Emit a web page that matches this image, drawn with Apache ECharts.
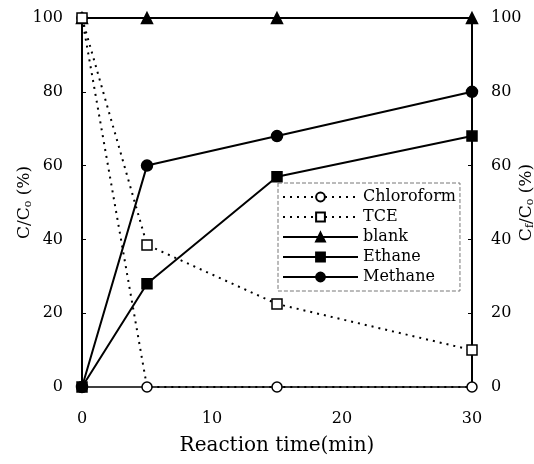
<!DOCTYPE html>
<html>
<head>
<meta charset="utf-8">
<script src="https://cdn.jsdelivr.net/npm/echarts@6/dist/echarts.min.js"></script>
<style>html,body{margin:0;padding:0;background:#fff;}#c{width:534px;height:464px;}</style>
</head>
<body>
<div id="c"></div>
<script>
const times = [0, 5, 15, 30];
const chloroform = [100, 0, 0, 0];
const tce = [100, 38.5, 22.5, 10];
const blank = [100, 100, 100, 100];
const ethane = [0, 28, 57, 68];
const methane = [0, 60, 68, 80];
const yTicks = [0, 20, 40, 60, 80, 100];
const xTicks = [0, 10, 20, 30];

const font = '"DejaVu Serif", "Liberation Serif", serif';
const pair = arr => times.map((t, i) => [t, arr[i]]);

function mk(name, data, symbol, filled, dotted, size) {
  return {
    name, type: 'line', data: pair(data), symbol, symbolSize: size,
    showSymbol: true,
    lineStyle: { color: '#000', width: 2, type: dotted ? [2, 5] : 'solid' },
    itemStyle: { color: filled ? '#000' : '#fff', borderColor: '#000', borderWidth: 1.5 },
    emphasis: { disabled: true },
    z: filled ? 3 : 4
  };
}

const chart = echarts.init(document.getElementById('c'), null, { renderer: 'canvas' });
const yAxisCommon = {
  type: 'value', min: 0, max: 100, interval: 20,
  axisLine: { show: true, lineStyle: { color: '#000', width: 2 } },
  axisTick: { show: true, inside: true, length: 4, lineStyle: { color: '#000' } },
  splitLine: { show: false },
  nameLocation: 'middle', nameRotate: 90, nameMoveOverlap: false,
  nameTextStyle: { fontFamily: font, fontSize: 17, color: '#000',
    rich: { sub: { fontSize: 11, fontFamily: font, color: '#000', verticalAlign: 'bottom', padding: [8, 0, 0, 0] },
            n: { fontSize: 17, fontFamily: font, color: '#000' } } },
  axisLabel: { fontFamily: font, fontSize: 16, color: '#000', margin: 19 }
};
chart.setOption({
  animation: false,
  backgroundColor: '#fff',
  grid: { left: 82, right: 62, top: 18, bottom: 77, outerBoundsMode: 'none', containLabel: false },
  xAxis: {
    type: 'value', min: 0, max: 30, interval: 10,
    name: 'Reaction time(min)', nameLocation: 'middle', nameGap: 49, nameMoveOverlap: false,
    nameTextStyle: { fontFamily: font, fontSize: 20, color: '#000' },
    axisLine: { show: true, onZero: false, lineStyle: { color: '#000', width: 1.5 } },
    axisTick: { show: false },
    splitLine: { show: false },
    axisLabel: { fontFamily: font, fontSize: 16, color: '#000', margin: 24,
      formatter: v => xTicks.includes(v) ? String(v) : '' }
  },
  yAxis: [
    Object.assign({}, yAxisCommon, { position: 'left', name: '{n|C/C}{sub|o}{n| (%)}', nameGap: 48,
      axisLabel: Object.assign({}, yAxisCommon.axisLabel, { formatter: v => yTicks.includes(v) ? String(v) : '' }) }),
    Object.assign({}, yAxisCommon, { position: 'right', name: '{n|C}{sub|f}{n|/C}{sub|o}{n| (%)}', nameGap: 45,
      axisLabel: Object.assign({}, yAxisCommon.axisLabel, { margin: 19, formatter: v => yTicks.includes(v) ? String(v) : '' }) })
  ],
  legend: {
    orient: 'vertical', left: 278, top: 183,
    itemWidth: 75, itemHeight: 11, itemGap: 4,
    padding: [6, 4, 6, 4],
    borderColor: '#777', borderWidth: 1, borderType: 'dashed',
    textStyle: { fontFamily: font, fontSize: 16, color: '#000', lineHeight: 16, padding: [0, 0, 0, 0] },
    data: ['Chloroform', 'TCE', 'blank', 'Ethane', 'Methane']
  },
  series: [
    mk('Chloroform', chloroform, 'circle', false, true, 10),
    mk('TCE', tce, 'rect', false, true, 10),
    mk('blank', blank, 'triangle', true, false, 11),
    mk('Ethane', ethane, 'rect', true, false, 10),
    mk('Methane', methane, 'circle', true, false, 11)
  ]
});
</script>
</body>
</html>
